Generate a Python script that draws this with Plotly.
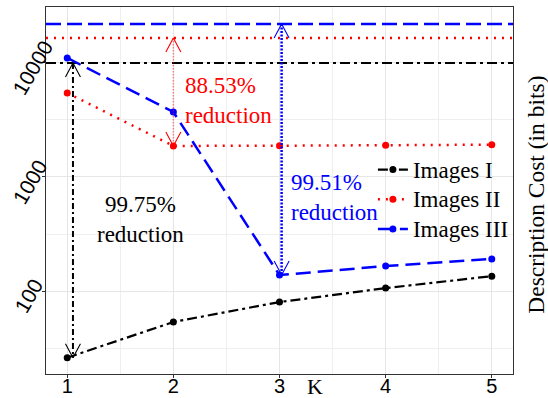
import numpy as np
import plotly.graph_objects as go

# Description cost per number of clusters K
K = [1, 2, 3, 4, 5]
images_1 = [26, 53.5, 80, 106, 135]
images_2 = [5460, 1872, 1880, 1900, 1920]
images_3 = [11070, 3715, 138, 165.6, 191]

# Cost of the uncompressed baseline for each image set
baseline_1 = 10000
baseline_2 = 16560
baseline_3 = 21980

series_names = ["Images I", "Images II", "Images III"]
reduction_labels = ["99.75%<br>reduction", "88.53%<br>reduction", "99.51%<br>reduction"]
y_ticks = [100, 1000, 10000]
y_minor = [10 ** 1.5, 10 ** 2.5, 10 ** 3.5]

BLACK, RED, BLUE = "#000000", "#FF0000", "#0000FF"
SERIF = "Liberation Serif"
SANS = "Liberation Sans"

X_RANGE = [0.8, 5.2]
Y_RANGE = [1.272, 4.491]  # log10 units
PLOT_W_PX = 548 - 46 - 35
PLOT_H_PX = 398 - 7 - 24

fig = go.Figure()

# baselines spanning the whole panel
for base, col, dash, w in [(baseline_3, BLUE, "15px,6px", 2.5),
                           (baseline_2, RED, "2px,6px", 2.5),
                           (baseline_1, BLACK, "10px,4px,3px,4px", 2.2)]:
    fig.add_trace(go.Scatter(x=X_RANGE, y=[base, base], mode="lines",
                             line=dict(color=col, width=w, dash=dash),
                             showlegend=False, hoverinfo="skip"))

# series (legend text is enlarged inside the entry so rows stay compact)
styles = [
    (images_1, BLACK, "10px,4px,3px,4px", 2.2),
    (images_2, RED, "2px,6px", 2.5),
    (images_3, BLUE, "15px,7px", 2.5),
]
for name, (vals, col, dash, w) in zip(series_names, styles):
    fig.add_trace(go.Scatter(x=K, y=vals, mode="lines+markers",
                             name=f'<span style="font-size:23px">{name}</span>',
                             line=dict(color=col, width=w, dash=dash),
                             marker=dict(color=col, size=7)))


def double_arrow(x, top, bottom, col, shaft_col, dash, width):
    """Vertical double-headed arrow with open heads, drawn on the log axis."""
    fig.add_trace(go.Scatter(x=[x, x], y=[top, bottom], mode="lines",
                             line=dict(color=shaft_col, width=width, dash=dash),
                             showlegend=False, hoverinfo="skip"))
    dx = 7.5 / 106.3          # half width of a head in x units
    dl = 14.0 / 114.0         # head length in decades
    lt, lb = np.log10(top), np.log10(bottom)
    fig.add_trace(go.Scatter(x=[x - dx, x, x + dx], y=[10 ** (lt - dl), top, 10 ** (lt - dl)],
                             mode="lines", line=dict(color=col, width=1.1),
                             showlegend=False, hoverinfo="skip"))
    fig.add_trace(go.Scatter(x=[x - dx, x, x + dx], y=[10 ** (lb + dl), bottom, 10 ** (lb + dl)],
                             mode="lines", line=dict(color=col, width=1.1),
                             showlegend=False, hoverinfo="skip"))


double_arrow(1.054, baseline_1, images_1[0], BLACK, BLACK, "6px,3px,2px,3px", 2)
double_arrow(2.0, baseline_2, images_2[1], RED, "rgba(255,0,0,0.45)", "1.5px,1.5px", 1.5)
double_arrow(3.02, baseline_3, images_3[2], BLUE, BLUE, "2px,1.5px", 2.5)

# reduction labels (annotation y on a log axis is in log10 units)
fig.add_annotation(x=1.69, y=np.log10(428), text=reduction_labels[0], showarrow=False,
                   font=dict(family=SERIF, size=23, color=BLACK), align="center")
fig.add_annotation(x=2.09, y=np.log10(4730), text=reduction_labels[1], showarrow=False,
                   xanchor="left", align="left", font=dict(family=SERIF, size=23, color=RED))
fig.add_annotation(x=3.09, y=np.log10(655), text=reduction_labels[2], showarrow=False,
                   xanchor="left", align="left", font=dict(family=SERIF, size=23, color=BLUE))

# rotated y tick labels, centred a little left of and below each tick
TICK_FONT = 21
for v in y_ticks:
    txt = str(v)
    length = len(txt) * 0.556 * TICK_FONT
    dx_px = -13 - (58 - length) * 5 / 23
    fig.add_annotation(x=dx_px / PLOT_W_PX, xref="paper",
                       y=np.log10(v) - 5 / 114, yref="y",
                       text=txt, textangle=-60, showarrow=False,
                       xanchor="center", yanchor="middle",
                       font=dict(family=SANS, size=TICK_FONT, color=BLACK))

# axis titles
fig.add_annotation(x=3.33, xref="x", y=-0.035, yref="paper", text="K", showarrow=False,
                   yanchor="middle", font=dict(family=SERIF, size=22, color=BLACK))
fig.add_annotation(x=1.081, xref="paper", y=0.488, yref="paper",
                   text="Description Cost (in bits)", textangle=-90, showarrow=False,
                   font=dict(family=SERIF, size=23.5, color=BLACK))

GRID = "#E6E6E6"
fig.update_layout(
    width=548, height=398,
    margin=dict(l=46, r=35, t=7, b=24),
    paper_bgcolor="white", plot_bgcolor="white",
    showlegend=True,
    legend=dict(x=0.70, y=0.611, xanchor="left", yanchor="top",
                bgcolor="rgba(0,0,0,0)", font=dict(family=SERIF, size=20.5, color=BLACK),
                itemwidth=30, tracegroupgap=0),
    xaxis=dict(range=X_RANGE, tickvals=K, ticks="outside", ticklen=3,
               tickcolor="#333333", showline=True, linecolor="#333333", linewidth=1,
               mirror=True, showgrid=True, gridcolor=GRID, gridwidth=1,
               minor=dict(tickvals=[1.5, 2.5, 3.5, 4.5], showgrid=True,
                          gridcolor="#EFEFEF", gridwidth=0.8, ticklen=0),
               tickfont=dict(family=SANS, size=20, color=BLACK), zeroline=False,
               ticklabelstandoff=-9, automargin=False),
    yaxis=dict(type="log", range=Y_RANGE, tickvals=y_ticks, showticklabels=False,
               ticks="outside", ticklen=3, tickcolor="#333333",
               showline=True, linecolor="#333333", linewidth=1, mirror=True,
               showgrid=True, gridcolor=GRID, gridwidth=1,
               minor=dict(tickvals=y_minor, showgrid=True, gridcolor="#EFEFEF",
                          gridwidth=0.8, ticklen=0),
               zeroline=False, automargin=False),
)

fig.write_html("out.html")
